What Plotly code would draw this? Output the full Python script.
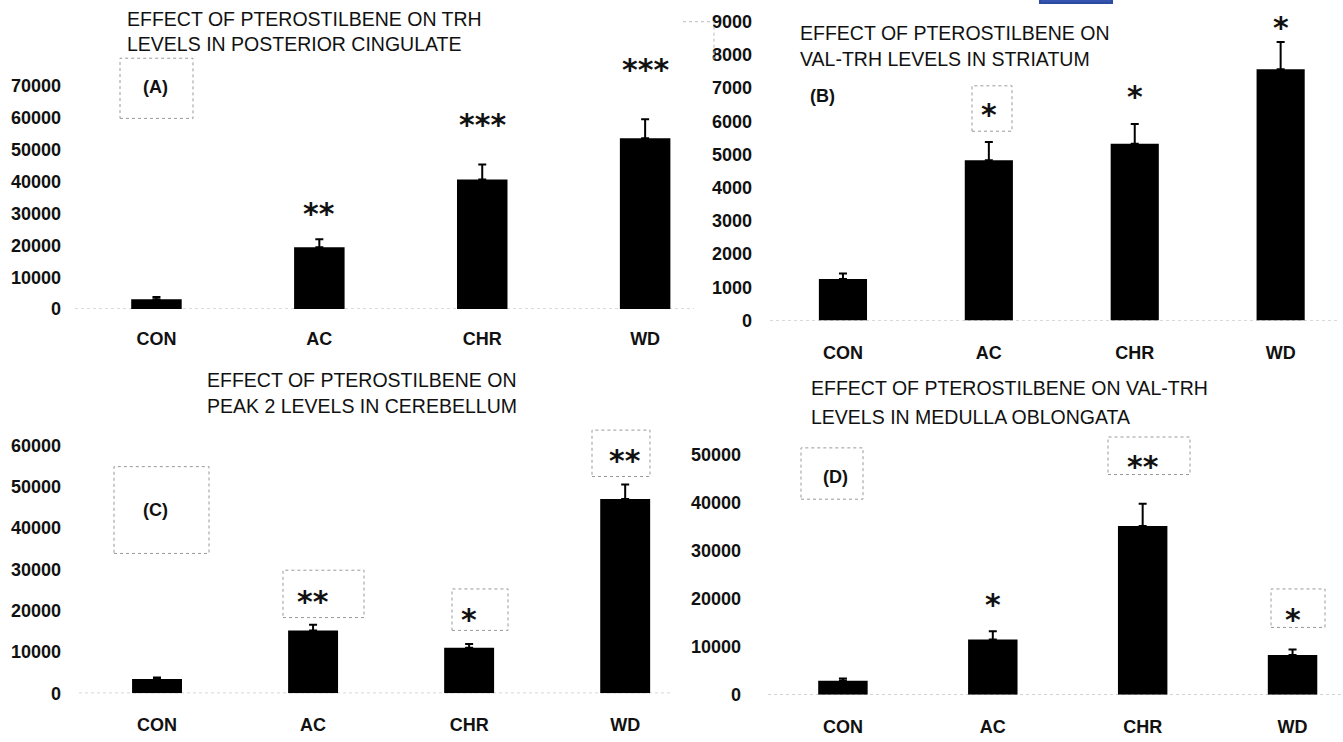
import plotly.graph_objects as go

W, H = 1343, 742

categories = ["CON", "AC", "CHR", "WD"]

# Panel A: TRH in posterior cingulate
a_mean = [3100, 19400, 40700, 53600]
a_err = [700, 2500, 4700, 6000]
a_stars = ["", "**", "***", "***"]
a_star_y = [0, 32000, 59900, 77100]
a_ticks = [0, 10000, 20000, 30000, 40000, 50000, 60000, 70000]

# Panel B: VAL-TRH in striatum
b_mean = [1256, 4827, 5321, 7567]
b_err = [160, 545, 595, 820]
b_stars = ["", "*", "*", "*"]
b_star_y = [0, 6380, 6920, 9000]
b_ticks = [0, 1000, 2000, 3000, 4000, 5000, 6000, 7000, 8000, 9000]

# Panel C: Peak 2 in cerebellum
c_mean = [3430, 15220, 11000, 47090]
c_err = [390, 1350, 950, 3500]
c_stars = ["", "**", "*", "**"]
c_star_y = [0, 23750, 19360, 57850]
c_ticks = [0, 10000, 20000, 30000, 40000, 50000, 60000]

# Panel D: VAL-TRH in medulla oblongata
d_mean = [2945, 11500, 35140, 8290]
d_err = [475, 1720, 4660, 1160]
d_stars = ["", "*", "**", "*"]
d_star_y = [0, 20070, 48840, 16990]
d_ticks = [0, 10000, 20000, 30000, 40000, 50000]

titles = {
    "A": ["EFFECT OF PTEROSTILBENE ON TRH", "LEVELS IN POSTERIOR CINGULATE"],
    "B": ["EFFECT OF PTEROSTILBENE ON", "VAL-TRH LEVELS IN STRIATUM"],
    "C": ["EFFECT OF PTEROSTILBENE ON", "PEAK 2 LEVELS IN CEREBELLUM"],
    "D": ["EFFECT OF PTEROSTILBENE ON VAL-TRH", "LEVELS IN MEDULLA OBLONGATA"],
}


def px(x):
    return x / W


def py(y):
    return 1 - y / H


SANS = "Liberation Sans, Arial, sans-serif"
TITLE_FONT = dict(family=SANS, size=19.5, color="#111")
TICK_FONT = dict(family=SANS, size=18, color="#111", weight="bold")
STAR_FONT = dict(family="DejaVu Sans, sans-serif", size=30, color="#111", weight="bold")
LABEL_FONT = dict(family=SANS, size=18, color="#111", weight="bold")

panels = [
    # key, mean, err, stars, star_y, ticks, xdom(px), ybottom/top px, yrange, xrange, barwidth, ystandoff, xstandoff
    ("A", a_mean, a_err, a_stars, a_star_y, a_ticks, (75, 694), (313.3, 54.9), [0, 80000], [-0.5, 3.3], 0.31, 13, 17),
    ("B", b_mean, b_err, b_stars, b_star_y, b_ticks, (770, 1339), (325, 5), [0, 9500], [-0.5, 3.4], 0.33, 17, 19),
    ("C", c_mean, c_err, c_stars, c_star_y, c_ticks, (79, 672), (702.7, 430.8), [0, 65000], [-0.5, 3.3], 0.32, 17, 19),
    ("D", d_mean, d_err, d_stars, d_star_y, d_ticks, (768, 1342), (704.3, 441.5), [0, 54000], [-0.5, 3.33], 0.33, 26, 19),
]

fig = go.Figure()
layout = dict(
    width=W, height=H,
    margin=dict(l=0, r=0, t=0, b=0),
    paper_bgcolor="white", plot_bgcolor="rgba(0,0,0,0)",
    showlegend=False,
    annotations=[], shapes=[],
)

for i, (key, mean, err, stars, star_y, ticks, xd, yd, yr, xr, bw, ystand, xstand) in enumerate(panels):
    n = "" if i == 0 else str(i + 1)
    xa, ya = "x" + n, "y" + n
    fig.add_trace(go.Bar(
        x=categories, y=mean, xaxis=xa, yaxis=ya, width=bw,
        marker=dict(color="black", line=dict(width=0)),
        error_y=dict(type="data", symmetric=False, array=err, arrayminus=[0] * len(err),
                     color="black", thickness=2, width=4),
    ))
    layout["xaxis" + n] = dict(
        domain=[px(xd[0]), px(xd[1])], anchor=ya, range=xr, type="category",
        showgrid=False, showline=False, zeroline=False, ticks="",
        tickfont=TICK_FONT, ticklabelstandoff=xstand,
    )
    layout["yaxis" + n] = dict(
        domain=[py(yd[0]), py(yd[1])], anchor=xa, range=yr,
        tickvals=ticks, ticktext=[str(t) for t in ticks],
        showgrid=False, showline=False, zeroline=False, ticks="",
        tickfont=TICK_FONT, ticklabelstandoff=ystand,
    )
    # dotted baseline
    layout["shapes"].append(dict(
        type="line", xref=xa + " domain", yref=ya, x0=0, x1=1, y0=0, y1=0,
        line=dict(color="#aaa", width=1, dash="dot"), layer="below",
    ))
    for c, s, sy in zip(categories, stars, star_y):
        if s:
            layout["annotations"].append(dict(
                x=c, y=sy, xref=xa, yref=ya, text=s, showarrow=False,
                font=STAR_FONT, yanchor="middle", yshift=-6,
            ))

# Titles
title_pos = {"A": (125, 19, 45), "B": (798, 33, 60), "C": (205, 385, 412), "D": (809, 393, 423)}
for key, (x0, y1, y2) in title_pos.items():
    for line, yy in zip(titles[key], (y1, y2)):
        layout["annotations"].append(dict(
            x=px(x0), y=py(yy), xref="paper", yref="paper", text=line, showarrow=False,
            xanchor="left", yanchor="middle", font=TITLE_FONT,
        ))

# Panel labels
for lab, (lx, ly) in {"(A)": (155, 88), "(B)": (822, 97), "(C)": (155, 517), "(D)": (835, 484)}.items():
    layout["annotations"].append(dict(
        x=px(lx), y=py(ly), xref="paper", yref="paper", text=lab, showarrow=False,
        xanchor="center", yanchor="middle", font=LABEL_FONT,
    ))

# dotted boxes (pixel rectangles)
boxes = [
    (120, 59, 193, 120),
    (972, 87, 1012, 133),
    (114, 473, 209, 561),
    (283, 578, 364, 626),
    (452, 597, 508, 639),
    (592, 436, 650, 483),
    (801, 454, 863, 506),
    (1108, 443, 1190, 481),
    (1271, 597, 1325, 636),
]
for (x0, y0, x1, y1) in boxes:
    layout["shapes"].append(dict(
        type="rect", xref="paper", yref="paper", x0=px(x0), x1=px(x1), y0=py(y1), y1=py(y0),
        line=dict(color="#999", width=1, dash="dot"), fillcolor="rgba(0,0,0,0)",
    ))

# faint dotted frame fragment left of panel B
layout["shapes"].append(dict(
    type="path", xref="paper", yref="paper",
    path=f"M {px(683)},{py(22)} L {px(714)},{py(22)} L {px(714)},{py(60)}",
    line=dict(color="#bbb", width=1, dash="dot"),
))

# blue fragment at top edge
layout["shapes"].append(dict(
    type="rect", xref="paper", yref="paper", x0=px(1040), x1=px(1112), y0=py(3), y1=py(-10),
    line=dict(color="#2b4aa0", width=2), fillcolor="#3355b0",
))

fig.update_layout(**layout)
fig.write_html("out.html", post_script="document.body.style.margin='0px';",
               config={"displayModeBar": False})
